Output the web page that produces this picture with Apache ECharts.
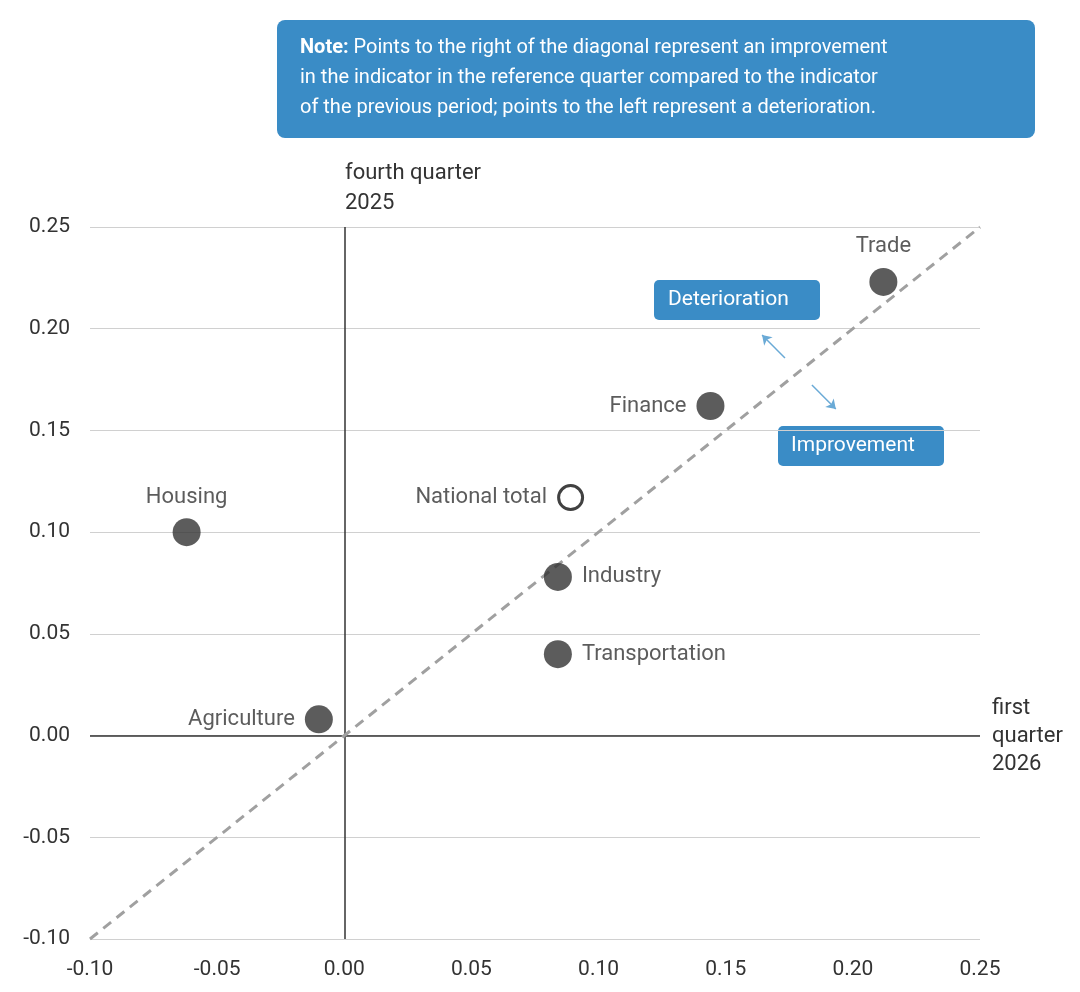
<!DOCTYPE html>
<html><head><meta charset="utf-8">
<script src="https://cdn.jsdelivr.net/npm/echarts@6/dist/echarts.min.js"></script>
<style>html,body{margin:0;padding:0;background:#fff}#c{width:1080px;height:992px}</style>
</head><body><div id="c"></div>
<script>
var names = ['Trade', 'Finance', 'National total', 'Housing', 'Industry', 'Transportation', 'Agriculture'];
var q1_2026 = [0.212, 0.144, 0.089, -0.062, 0.084, 0.084, -0.010];
var q4_2025 = [0.223, 0.162, 0.117, 0.100, 0.078, 0.040, 0.008];
var labelPos = ['top', 'left', 'left', 'top', 'right', 'right', 'left'];
var yTicks = [-0.10, -0.05, 0.00, 0.05, 0.10, 0.15, 0.20, 0.25];

var blue = '#3a8cc6';
var chart = echarts.init(document.getElementById('c'));

var pts = names.map(function (n, i) {
  var total = n === 'National total';
  return {
    name: n, value: [q1_2026[i], q4_2025[i]],
    itemStyle: total ? { color: '#fff', borderColor: '#111', borderWidth: 3 } : { color: '#333' },
    symbolSize: total ? 24 : 28,
    label: { show: true, position: labelPos[i], formatter: n, distance: 10 }
  };
});

chart.setOption({
  textStyle: { fontFamily: 'Roboto' },
  grid: { left: 90, right: 100, top: 227, bottom: 53 },
  xAxis: {
    type: 'value', min: -0.10, max: 0.25, interval: 0.05,
    axisLine: { show: false }, axisTick: { show: false }, splitLine: { show: false },
    axisLabel: { fontSize: 21, color: '#333', margin: 20, formatter: function (v) { return v.toFixed(2); } }
  },
  yAxis: {
    type: 'value', min: -0.10, max: 0.25, interval: 0.05,
    axisLine: { show: false }, axisTick: { show: false },
    splitLine: { lineStyle: { color: '#d0d0d0' } },
    axisLabel: { fontSize: 21, color: '#333', margin: 20, formatter: function (v) { return v.toFixed(2); } }
  },
  series: [{
    type: 'scatter', data: pts, z: 5,
    label: { fontSize: 22, color: '#333' },
    markLine: {
      silent: true, symbol: 'none', animation: false, label: { show: false },
      data: [
        { xAxis: 0, lineStyle: { color: '#333', width: 1.5, type: 'solid' } },
        { yAxis: 0, lineStyle: { color: '#333', width: 1.5, type: 'solid' } },
        [{ coord: [-0.1, -0.1], lineStyle: { color: '#a0a0a0', width: 3, type: [10, 7] } }, { coord: [0.25, 0.25] }],
        [{ coord: [0.1733, 0.1856], symbol: 'none', lineStyle: { color: '#6aaad6', width: 1.5, type: 'solid' } },
         { coord: [0.1643, 0.1969], symbol: 'arrow', symbolSize: 9 }],
        [{ coord: [0.1839, 0.1723], symbol: 'none', lineStyle: { color: '#6aaad6', width: 1.5, type: 'solid' } },
         { coord: [0.1933, 0.1605], symbol: 'arrow', symbolSize: 9 }]
      ]
    }
  }],
  graphic: [
    { type: 'rect', left: 277, top: 20, shape: { width: 758, height: 118, r: 8 }, style: { fill: blue } },
    { type: 'text', left: 300, top: 33, style: {
      text: '{b|Note:} Points to the right of the diagonal represent an improvement\nin the indicator in the reference quarter compared to the indicator\nof the previous period; points to the left represent a deterioration.',
      fill: '#fff', font: '20px Roboto', lineHeight: 30,
      rich: { b: { fontWeight: 'bold', fontSize: 20, fill: '#fff', fontFamily: 'Roboto' } } } },
    { type: 'text', left: 345, top: 158, style: { text: 'fourth quarter\n2025', fill: '#333', font: '22px Roboto', lineHeight: 30 } },
    { type: 'text', left: 992, top: 694, style: { text: 'first\nquarter\n2026', fill: '#333', font: '22px Roboto', lineHeight: 28 } },
    { type: 'rect', left: 654, top: 280, shape: { width: 166, height: 40, r: 5 }, style: { fill: blue } },
    { type: 'text', left: 668, top: 289, style: { text: 'Deterioration', fill: '#fff', font: '21px Roboto' } },
    { type: 'rect', left: 778, top: 426, shape: { width: 166, height: 40, r: 5 }, style: { fill: blue } },
    { type: 'text', left: 791, top: 435, style: { text: 'Improvement', fill: '#fff', font: '21px Roboto' } }
  ]
});
</script></body></html>
